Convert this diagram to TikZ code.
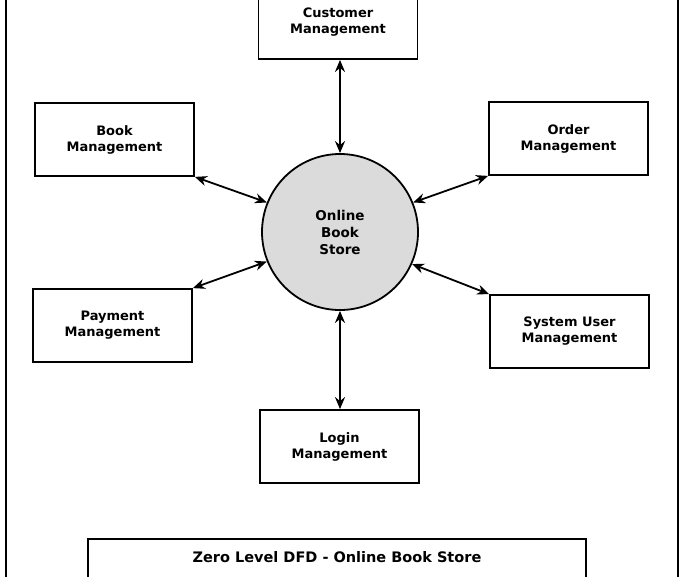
\documentclass[tikz,border=0pt]{standalone}
\usepackage{fontspec}
\setmainfont{DejaVu Sans}
\usetikzlibrary{arrows.meta}
\tikzset{
  proc/.style={draw, line width=1.8pt, minimum width=159pt, minimum height=73pt,
    align=center, font=\bfseries\fontsize{13}{16}\selectfont},
  store/.style={draw, circle, line width=1.8pt, fill=black!14, minimum size=156pt,
    align=center, font=\bfseries\fontsize{13.5}{17}\selectfont},
  flow/.style={line width=1.8pt, {Stealth[length=12pt,width=10pt]}-{Stealth[length=12pt,width=10pt]}},
  titlebox/.style={draw, line width=1.8pt, minimum width=498pt, inner ysep=13pt,
    text depth=45pt, font=\bfseries\fontsize{14.5}{18}\selectfont}
}
\begin{document}
\begin{tikzpicture}[x=1pt,y=-1pt]
\useasboundingbox (0,0) rectangle (680,576);
\clip (0,0) rectangle (680,576);
\draw[line width=1.8pt] (6,-10) rectangle (678,590);
\node[store] (shop) at (340,232) {Online\\Book\\Store};
\node[proc] (customer) at (338,22.5) {Customer\\Management};
\node[proc] (book) at (114.5,139.5) {Book\\Management};
\node[proc] (order) at (568.5,138.5) {Order\\Management};
\node[proc] (payment) at (112.5,325.5) {Payment\\Management};
\node[proc] (sysuser) at (569.5,331.5) {System User\\Management};
\node[proc] (login) at (339.5,446.5) {Login\\Management};
\node[titlebox, anchor=north] (title) at (337,538) {Zero Level DFD - Online Book Store};
\draw[flow] (shop.north |- customer.south) -- (shop.north);
\draw[flow] (book.south east) -- (shop.158);
\draw[flow] (order.south west) -- (shop.22);
\draw[flow] (payment.north east) -- (shop.202);
\draw[flow] (sysuser.north west) -- (shop.336);
\draw[flow] (shop.south) -- (shop.south |- login.north);
\end{tikzpicture}
\end{document}
